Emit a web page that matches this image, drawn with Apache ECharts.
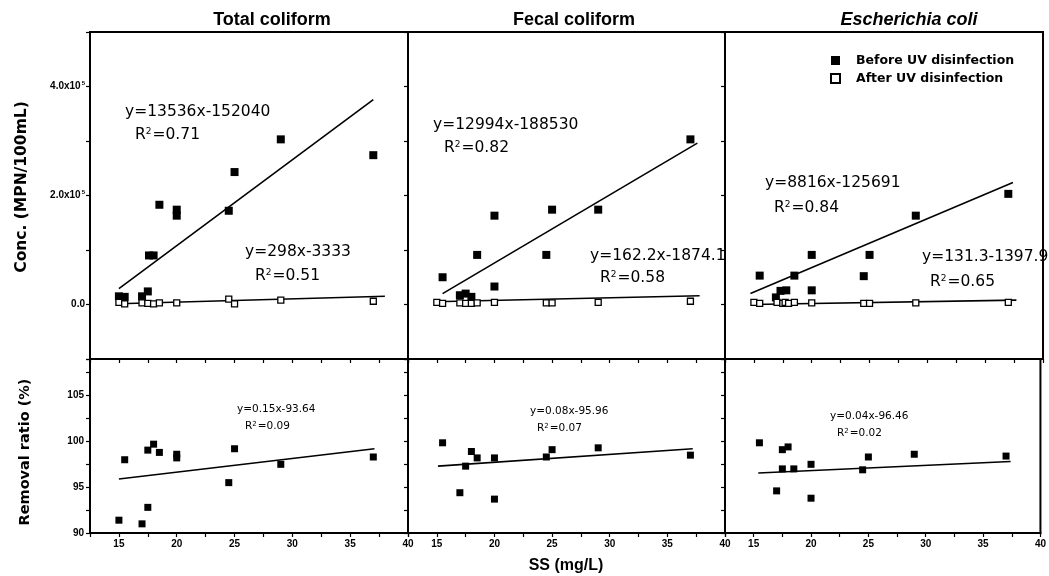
<!DOCTYPE html>
<html><head><meta charset="utf-8">
<script src="https://cdn.jsdelivr.net/npm/echarts@6/dist/echarts.min.js"></script>
<style>html,body{margin:0;padding:0;background:#fff}#c{width:1049px;height:576px}</style>
</head><body><div id="c"></div><script>
// ---------------- data ----------------
const panelTitles = ['Total coliform', 'Fecal coliform', 'Escherichia coli'];
const ssTickLabels = [15, 20, 25, 30, 35, 40];
const concTickLabels = [0, 200000, 400000];
const ratioTickLabels = [90, 95, 100, 105];

// Total coliform
const tcBeforeSS   = [15.0, 15.5, 17.0, 17.5, 17.6, 18.0, 18.5, 20.0, 20.0, 24.5, 25.0, 29.0, 37.0];
const tcBeforeConc = [15000, 14000, 15000, 24000, 90000, 90000, 183000, 174000, 163000, 172000, 243000, 303000, 274000];
const tcAfterSS    = [15.0, 15.5, 17.0, 17.5, 18.0, 18.5, 20.0, 24.5, 25.0, 29.0, 37.0];
const tcAfterConc  = [4000, 1000, 3000, 2000, 1000, 3000, 3000, 10000, 1000, 8000, 6000];
const tcBeforeFitSS = [15.0, 37.0], tcBeforeFitConc = [29000, 376000];
const tcAfterFitSS  = [15.0, 38.0], tcAfterFitConc  = [1500, 15000];
const tcRatioSS    = [15.0, 15.5, 17.0, 17.5, 17.5, 18.0, 18.5, 20.0, 20.0, 24.5, 25.0, 29.0, 37.0];
const tcRatio      = [91.4, 98.0, 91.0, 92.8, 99.05, 99.7, 98.8, 98.6, 98.2, 95.5, 99.2, 97.5, 98.3];
const tcRatioFitSS = [15.0, 37.1], tcRatioFit = [95.9, 99.2];

// Fecal coliform
const fcBeforeSS   = [15.5, 17.0, 17.5, 18.0, 18.5, 20.0, 20.0, 24.5, 25.0, 29.0, 37.0];
const fcBeforeConc = [50000, 17000, 20000, 14000, 91000, 163000, 33000, 91000, 174000, 174000, 303000];
const fcAfterSS    = [15.0, 15.5, 17.0, 17.5, 18.0, 18.5, 20.0, 24.5, 25.0, 29.0, 37.0];
const fcAfterConc  = [4000, 2000, 3000, 2000, 2000, 3000, 4000, 3000, 3000, 4000, 6000];
const fcBeforeFitSS = [15.5, 37.6], fcBeforeFitConc = [20000, 296000];
const fcAfterFitSS  = [14.8, 37.8], fcAfterFitConc  = [5000, 16000];
const fcRatioSS    = [15.5, 17.0, 17.5, 18.0, 18.5, 20.0, 20.0, 24.5, 25.0, 29.0, 37.0];
const fcRatio      = [99.85, 94.4, 97.3, 98.9, 98.2, 98.2, 93.7, 98.3, 99.1, 99.3, 98.5];
const fcRatioFitSS = [15.1, 37.2], fcRatioFit = [97.3, 99.2];

// Escherichia coli
const ecBeforeSS   = [15.5, 16.9, 17.3, 17.8, 18.5, 20.0, 20.0, 24.5, 25.0, 29.0, 37.0];
const ecBeforeConc = [53000, 13000, 25000, 26000, 53000, 91000, 26000, 52000, 91000, 163000, 203000];
const ecAfterSS    = [15.0, 15.5, 17.0, 17.5, 17.7, 18.0, 18.5, 20.0, 24.5, 25.0, 29.0, 37.0];
const ecAfterConc  = [4000, 2000, 4000, 2000, 4000, 2000, 4000, 3000, 2000, 2000, 3000, 4000];
const ecBeforeFitSS = [14.7, 37.4], ecBeforeFitConc = [20000, 224000];
const ecAfterFitSS  = [14.8, 37.7], ecAfterFitConc  = [0, 8000];
const ecRatioSS    = [15.5, 17.0, 17.5, 17.5, 18.0, 18.5, 20.0, 20.0, 24.5, 25.0, 29.0, 37.0];
const ecRatio      = [99.85, 94.6, 99.1, 97.0, 99.4, 97.0, 97.5, 93.8, 96.9, 98.3, 98.6, 98.4];
const ecRatioFitSS = [15.4, 37.4], ecRatioFit = [96.55, 97.8];

// regression texts
const concEqBefore = ['y=13536x-152040', 'y=12994x-188530', 'y=8816x-125691'];
const concR2Before = ['0.71', '0.82', '0.84'];
const concEqAfter  = ['y=298x-3333', 'y=162.2x-1874.1', 'y=131.3-1397.9'];
const concR2After  = ['0.51', '0.58', '0.65'];
const ratioEq      = ['y=0.15x-93.64', 'y=0.08x-95.96', 'y=0.04x-96.46'];
const ratioR2      = ['0.09', '0.07', '0.02'];

// ---------------- chart ----------------
const pairs = (xs, ys) => xs.map((x, i) => [x, ys[i]]);
const panels = [
  {b: pairs(tcBeforeSS, tcBeforeConc), a: pairs(tcAfterSS, tcAfterConc), bf: pairs(tcBeforeFitSS, tcBeforeFitConc), af: pairs(tcAfterFitSS, tcAfterFitConc), r: pairs(tcRatioSS, tcRatio), rf: pairs(tcRatioFitSS, tcRatioFit)},
  {b: pairs(fcBeforeSS, fcBeforeConc), a: pairs(fcAfterSS, fcAfterConc), bf: pairs(fcBeforeFitSS, fcBeforeFitConc), af: pairs(fcAfterFitSS, fcAfterFitConc), r: pairs(fcRatioSS, fcRatio), rf: pairs(fcRatioFitSS, fcRatioFit)},
  {b: pairs(ecBeforeSS, ecBeforeConc), a: pairs(ecAfterSS, ecAfterConc), bf: pairs(ecBeforeFitSS, ecBeforeFitConc), af: pairs(ecAfterFitSS, ecAfterFitConc), r: pairs(ecRatioSS, ecRatio), rf: pairs(ecRatioFitSS, ecRatioFit)}
];

const gLeft = [90, 408, 725], gWidth = [318, 317, 318];
const topY = 32, topH = 327, botY = 359, botH = 174;
const grids = [], xAxes = [], yAxes = [], series = [];
const axisLineStyle = {color: '#000', width: 2};
const tickFont = {fontFamily: 'Liberation Sans', fontSize: 10, fontWeight: 'bold', color: '#000'};

for (let i = 0; i < 3; i++) {
  grids.push({left: gLeft[i], top: topY, width: gWidth[i], height: topH, show: true, borderColor: '#000', borderWidth: 2, containLabel: false});
}
for (let i = 0; i < 3; i++) {
  grids.push({left: gLeft[i], top: botY, width: gWidth[i], height: botH, show: true, borderColor: '#000', borderWidth: 2, containLabel: false});
}
for (let g = 0; g < 6; g++) {
  const bottomRow = g >= 3;
  xAxes.push({
    type: 'value', gridIndex: g, min: 12.5, max: 40, interval: 2.5,
    axisLine: {show: true, onZero: false, lineStyle: axisLineStyle},
    axisTick: {show: true, length: 4, lineStyle: {color: '#000', width: 1.2}},
    splitLine: {show: false},
    axisLabel: bottomRow ? Object.assign({show: true, margin: 6, showMinLabel: true, showMaxLabel: true, hideOverlap: false,
      formatter: v => ssTickLabels.includes(v) ? String(v) : ''}, tickFont) : {show: false}
  });
  if (!bottomRow) {
    yAxes.push({
      type: 'value', gridIndex: g, min: -100000, max: 500000, interval: 100000,
      axisLine: {show: true, onZero: false, lineStyle: axisLineStyle},
      axisTick: {show: true, length: 4, lineStyle: {color: '#000', width: 1.2}},
      splitLine: {show: false},
      axisLabel: g === 0 ? {
        show: true, margin: 5, color: '#000',
        formatter: v => v === 0 ? '{b|0.0}' : (concTickLabels.includes(v) ? '{b|' + (v / 100000).toFixed(1) + 'x10}{s|5}' : ''),
        rich: {
          b: {fontFamily: 'Liberation Sans', fontSize: 10, fontWeight: 'bold', color: '#000', lineHeight: 12},
          s: {fontFamily: 'Liberation Sans', fontSize: 6, fontWeight: 'bold', color: '#000', verticalAlign: 'top', lineHeight: 12, padding: [0, 0, 6, 1]}
        }
      } : {show: false}
    });
  } else {
    yAxes.push({
      type: 'value', gridIndex: g, min: 90, max: 109, interval: 2.5,
      axisLine: {show: true, onZero: false, lineStyle: axisLineStyle},
      axisTick: {show: true, length: 4, lineStyle: {color: '#000', width: 1.2}},
      splitLine: {show: false},
      axisLabel: g === 3 ? Object.assign({show: true, margin: 6, formatter: v => ratioTickLabels.includes(v) ? String(v) : ''}, tickFont) : {show: false}
    });
  }
}

const lineSeries = (idx, data) => ({type: 'line', xAxisIndex: idx, yAxisIndex: idx, data, symbol: 'none', silent: true,
  lineStyle: {color: '#000', width: 1.6}, z: 1});

panels.forEach((p, i) => {
  series.push(lineSeries(i, p.bf));
  series.push(lineSeries(i, p.af));
  series.push({type: 'scatter', name: 'Before UV disinfection', xAxisIndex: i, yAxisIndex: i, data: p.b,
    symbol: 'rect', symbolSize: 8, itemStyle: {color: '#000', opacity: 1}, z: 3});
  series.push({type: 'scatter', name: 'After UV disinfection', xAxisIndex: i, yAxisIndex: i, data: p.a,
    symbol: 'rect', symbolSize: 6, itemStyle: {color: '#fff', borderColor: '#000', borderWidth: 1.3, opacity: 1}, z: 4});
  series.push(lineSeries(i + 3, p.rf));
  series.push({type: 'scatter', name: 'Removal ratio', xAxisIndex: i + 3, yAxisIndex: i + 3, data: p.r,
    symbol: 'rect', symbolSize: 7, itemStyle: {color: '#000', opacity: 1}, z: 3});
});

// ---------------- texts ----------------
const graphics = [];
function addText(x, y, text, style, extra) {
  graphics.push(Object.assign({type: 'text', x, y, silent: true,
    style: Object.assign({text, fill: '#000', align: 'left', verticalAlign: 'middle'}, style)}, extra || {}));
}
const titleX = [272, 574, 909];
panelTitles.forEach((t, i) => addText(titleX[i], 20, t, {align: 'center', fontFamily: 'Liberation Sans', fontWeight: 'bold', fontSize: 18, fontStyle: i === 2 ? 'italic' : 'normal'}));

const eqFont = {fontFamily: 'DejaVu Sans', fontSize: 15.5};
function r2Rich(val, size, sup) {
  return {text: '{n|R}{s|2}{n|=' + val + '}', rich: {
    n: {fontFamily: 'DejaVu Sans', fontSize: size, fill: '#000', color: '#000'},
    s: {fontFamily: 'DejaVu Sans', fontSize: sup, fill: '#000', color: '#000', verticalAlign: 'top', padding: [0, 1, 0, 0]}
  }};
}
const eqBPos = [[125, 112], [433, 125], [765, 183]];
const r2BPos = [[135, 135], [444, 148], [774, 208]];
const eqAPos = [[245, 252], [590, 256], [922, 257]];
const r2APos = [[255, 276], [600, 278], [930, 282]];
const eqRPos = [[237, 409], [530, 411], [830, 416]];
const r2RPos = [[245, 426], [537, 428], [837, 433]];
for (let i = 0; i < 3; i++) {
  addText(eqBPos[i][0], eqBPos[i][1], concEqBefore[i], eqFont);
  const rb = r2Rich(concR2Before[i], 15.5, 9);
  addText(r2BPos[i][0], r2BPos[i][1], rb.text, {rich: rb.rich});
  addText(eqAPos[i][0], eqAPos[i][1], concEqAfter[i], eqFont);
  const ra = r2Rich(concR2After[i], 15.5, 9);
  addText(r2APos[i][0], r2APos[i][1], ra.text, {rich: ra.rich});
  addText(eqRPos[i][0], eqRPos[i][1], ratioEq[i], {fontFamily: 'DejaVu Sans', fontSize: 10.5});
  const rr = r2Rich(ratioR2[i], 10.5, 7);
  addText(r2RPos[i][0], r2RPos[i][1], rr.text, {rich: rr.rich});
}
addText(22, 187, 'Conc. (MPN/100mL)', {align: 'center', fontFamily: 'DejaVu Sans', fontWeight: 'bold', fontSize: 15.5}, {rotation: Math.PI / 2});
addText(25, 452, 'Removal ratio (%)', {align: 'center', fontFamily: 'DejaVu Sans', fontWeight: 'bold', fontSize: 14.5}, {rotation: Math.PI / 2});
addText(566, 566, 'SS (mg/L)', {align: 'center', fontFamily: 'Liberation Sans', fontWeight: 'bold', fontSize: 16});

const chart = echarts.init(document.getElementById('c'), null, {renderer: 'canvas'});
chart.setOption({
  animation: false,
  backgroundColor: '#fff',
  grid: grids, xAxis: xAxes, yAxis: yAxes, series,
  legend: {
    data: ['Before UV disinfection', 'After UV disinfection'],
    orient: 'vertical', left: 825, top: 49, icon: 'rect', itemWidth: 9, itemHeight: 9, itemGap: 5,
    selectedMode: false,
    textStyle: {fontFamily: 'DejaVu Sans', fontWeight: 'bold', fontSize: 12.5, color: '#000', padding: [0, 0, 0, 11]}
  },
  graphic: graphics
});
</script></body></html>
